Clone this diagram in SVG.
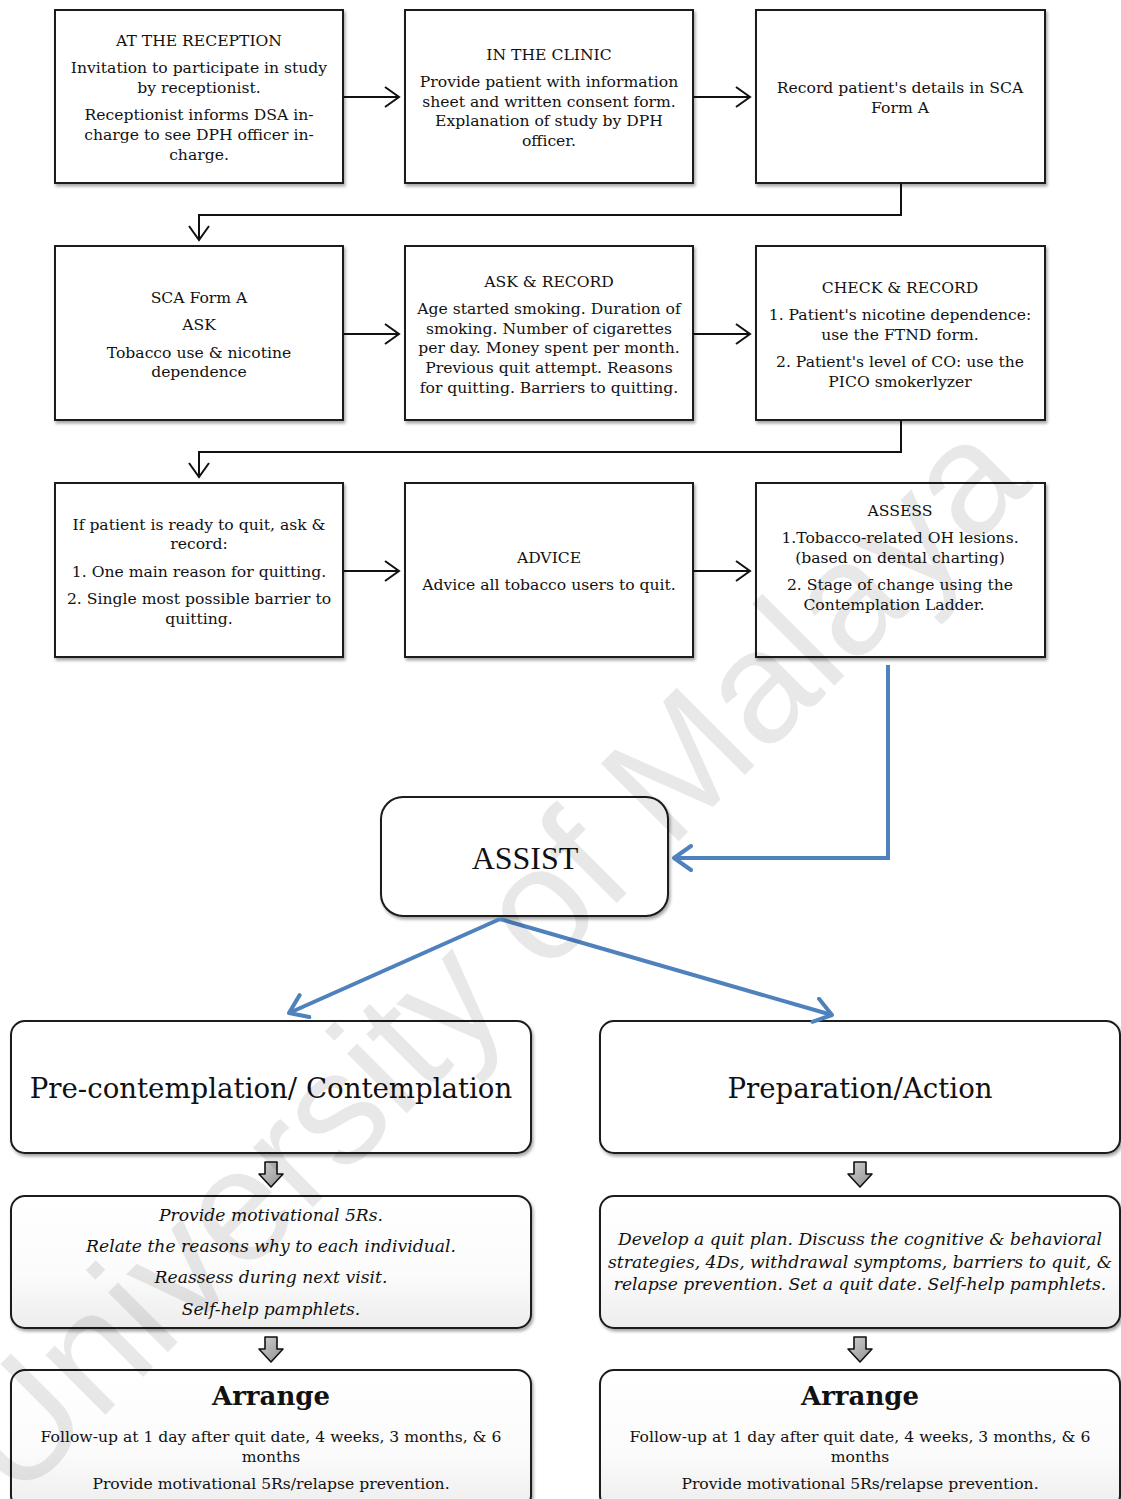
<svg xmlns="http://www.w3.org/2000/svg" width="1121" height="1499" viewBox="0 0 1121 1499">
  <defs>
    <filter id="shadow" x="-5%" y="-5%" width="112%" height="115%">
      <feDropShadow dx="1.5" dy="2.5" stdDeviation="1.8" flood-color="#000" flood-opacity="0.35"/>
    </filter>
    <linearGradient id="soft" x1="0" y1="0" x2="0" y2="1">
      <stop offset="0" stop-color="#ffffff"/>
      <stop offset="0.6" stop-color="#fbfbfb"/>
      <stop offset="1" stop-color="#ededed"/>
    </linearGradient>
    <linearGradient id="block" x1="0" y1="0" x2="1" y2="1">
      <stop offset="0" stop-color="#d2d2d2"/>
      <stop offset="1" stop-color="#8f8f8f"/>
    </linearGradient>
    <marker id="chev" markerUnits="userSpaceOnUse" markerWidth="20" markerHeight="24" refX="15" refY="11" orient="auto">
      <path d="M1,1 L15,11 L1,21" fill="none" stroke="#111" stroke-width="2"/>
    </marker>
    <marker id="chevBlue" markerUnits="userSpaceOnUse" markerWidth="24" markerHeight="30" refX="19" refY="14" orient="auto">
      <path d="M2,2 L19,14 L2,26" fill="none" stroke="#4f81bd" stroke-width="4" stroke-linecap="round" stroke-linejoin="round"/>
    </marker>
    <path id="downArrow" d="M-6,0 H6 V12 H12 L0,25 L-12,12 H-6 Z"/>
  </defs>
  <style>
    .box { fill: #fff; stroke: #1a1a1a; stroke-width: 2; filter: url(#shadow); }
    .rbox { fill: #fff; stroke: #1a1a1a; stroke-width: 2; filter: url(#shadow); }
    .gbox { fill: url(#soft); stroke: #1a1a1a; stroke-width: 2; filter: url(#shadow); }
    .t { font-family: "DejaVu Serif", "Liberation Serif", serif; font-size: 15.6px; fill: #111; text-anchor: middle; }
    .big { font-family: "DejaVu Serif", "Liberation Serif", serif; font-size: 27.6px; fill: #111; text-anchor: middle; }
    .it { font-family: "DejaVu Serif", "Liberation Serif", serif; font-style: italic; font-size: 17.2px; fill: #111; text-anchor: middle; }
    .hd { font-family: "DejaVu Serif", "Liberation Serif", serif; font-weight: bold; font-size: 26px; fill: #111; text-anchor: middle; }
    .assist { font-family: "Liberation Serif", "Times New Roman", serif; font-size: 32px; fill: #111; text-anchor: middle; }
    .conn { fill: none; stroke: #111; stroke-width: 2; }
    .blue { fill: none; stroke: #4f81bd; stroke-width: 4; }
    .blk { fill: url(#block); stroke: #111; stroke-width: 1.6; stroke-linejoin: round; }
    .wm { font-family: "Liberation Sans", Arial, sans-serif; font-size: 160px; fill: #000; fill-opacity: 0.09; text-anchor: middle; }
  </style>

  <!-- Row 1 -->
  <g id="reception">
    <rect class="box" x="55" y="10" width="288" height="173"/>
    <text class="t" x="199" y="46">AT THE RECEPTION</text>
    <text class="t" x="199" y="73">Invitation to participate in study</text>
    <text class="t" x="199" y="93">by receptionist.</text>
    <text class="t" x="199" y="120">Receptionist informs DSA in-</text>
    <text class="t" x="199" y="140">charge to see DPH officer in-</text>
    <text class="t" x="199" y="160">charge.</text>
  </g>
  <g id="clinic">
    <rect class="box" x="405" y="10" width="288" height="173"/>
    <text class="t" x="549" y="60">IN THE CLINIC</text>
    <text class="t" x="549" y="87">Provide patient with information</text>
    <text class="t" x="549" y="107">sheet and written consent form.</text>
    <text class="t" x="549" y="126">Explanation of study by DPH</text>
    <text class="t" x="549" y="146">officer.</text>
  </g>
  <g id="record-details">
    <rect class="box" x="756" y="10" width="289" height="173"/>
    <text class="t" x="900" y="93">Record patient's details in SCA</text>
    <text class="t" x="900" y="113">Form A</text>
  </g>

  <!-- Row 2 -->
  <g id="sca-form">
    <rect class="box" x="55" y="246" width="288" height="174"/>
    <text class="t" x="199" y="303">SCA Form A</text>
    <text class="t" x="199" y="330">ASK</text>
    <text class="t" x="199" y="358">Tobacco use &amp; nicotine</text>
    <text class="t" x="199" y="377">dependence</text>
  </g>
  <g id="ask-record">
    <rect class="box" x="405" y="246" width="288" height="174"/>
    <text class="t" x="549" y="287">ASK &amp; RECORD</text>
    <text class="t" x="549" y="314">Age started smoking. Duration of</text>
    <text class="t" x="549" y="334">smoking. Number of cigarettes</text>
    <text class="t" x="549" y="353">per day. Money spent per month.</text>
    <text class="t" x="549" y="373">Previous quit attempt. Reasons</text>
    <text class="t" x="549" y="393">for quitting. Barriers to quitting.</text>
  </g>
  <g id="check-record">
    <rect class="box" x="756" y="246" width="289" height="174"/>
    <text class="t" x="900" y="293">CHECK &amp; RECORD</text>
    <text class="t" x="900" y="320">1. Patient's nicotine dependence:</text>
    <text class="t" x="900" y="340">use the FTND form.</text>
    <text class="t" x="900" y="367">2. Patient's level of CO: use the</text>
    <text class="t" x="900" y="387">PICO smokerlyzer</text>
  </g>

  <!-- Row 3 -->
  <g id="ready-to-quit">
    <rect class="box" x="55" y="483" width="288" height="174"/>
    <text class="t" x="199" y="530">If patient is ready to quit, ask &amp;</text>
    <text class="t" x="199" y="549">record:</text>
    <text class="t" x="199" y="577">1. One main reason for quitting.</text>
    <text class="t" x="199" y="604">2. Single most possible barrier to</text>
    <text class="t" x="199" y="624">quitting.</text>
  </g>
  <g id="advice">
    <rect class="box" x="405" y="483" width="288" height="174"/>
    <text class="t" x="549" y="563">ADVICE</text>
    <text class="t" x="549" y="590">Advice all tobacco users to quit.</text>
  </g>
  <g id="assess">
    <rect class="box" x="756" y="483" width="289" height="174"/>
    <text class="t" x="900" y="516">ASSESS</text>
    <text class="t" x="900" y="543">1.Tobacco-related OH lesions.</text>
    <text class="t" x="900" y="563">(based on dental charting)</text>
    <text class="t" x="900" y="590">2. Stage of change using the</text>
    <text class="t" x="894" y="610">Contemplation Ladder.</text>
  </g>

  <!-- Assist -->
  <g id="assist">
    <rect class="rbox" x="381" y="797" width="287" height="119" rx="22" ry="22"/>
    <text class="assist" x="525" y="869">ASSIST</text>
  </g>

  <!-- Stage columns -->
  <g id="precontemplation">
    <rect class="rbox" x="11" y="1021" width="520" height="132" rx="14" ry="14"/>
    <text class="big" x="271" y="1098">Pre-contemplation/ Contemplation</text>
  </g>
  <g id="preparation">
    <rect class="rbox" x="600" y="1021" width="520" height="132" rx="14" ry="14"/>
    <text class="big" x="860" y="1098">Preparation/Action</text>
  </g>
  <g id="motivate">
    <rect class="gbox" x="11" y="1196" width="520" height="132" rx="14" ry="14"/>
    <text class="it" x="271" y="1221">Provide motivational 5Rs.</text>
    <text class="it" x="271" y="1252">Relate the reasons why to each individual.</text>
    <text class="it" x="271" y="1283">Reassess during next visit.</text>
    <text class="it" x="271" y="1315">Self-help pamphlets.</text>
  </g>
  <g id="quit-plan">
    <rect class="gbox" x="600" y="1196" width="520" height="132" rx="14" ry="14"/>
    <text class="it" x="860" y="1245">Develop a quit plan. Discuss the cognitive &amp; behavioral</text>
    <text class="it" x="860" y="1268">strategies, 4Ds, withdrawal symptoms, barriers to quit, &amp;</text>
    <text class="it" x="860" y="1290">relapse prevention. Set a quit date. Self-help pamphlets.</text>
  </g>
  <g id="arrange-left">
    <rect class="gbox" x="11" y="1370" width="520" height="140" rx="14" ry="14"/>
    <text class="hd" x="271" y="1405">Arrange</text>
    <text class="t" x="271" y="1442">Follow-up at 1 day after quit date, 4 weeks, 3 months, &amp; 6</text>
    <text class="t" x="271" y="1462">months</text>
    <text class="t" x="271" y="1489">Provide motivational 5Rs/relapse prevention.</text>
  </g>
  <g id="arrange-right">
    <rect class="gbox" x="600" y="1370" width="520" height="140" rx="14" ry="14"/>
    <text class="hd" x="860" y="1405">Arrange</text>
    <text class="t" x="860" y="1442">Follow-up at 1 day after quit date, 4 weeks, 3 months, &amp; 6</text>
    <text class="t" x="860" y="1462">months</text>
    <text class="t" x="860" y="1489">Provide motivational 5Rs/relapse prevention.</text>
  </g>

  <!-- Connectors -->
  <g id="connectors">
    <line class="conn" x1="343" y1="97" x2="399" y2="97" marker-end="url(#chev)"/>
    <line class="conn" x1="693" y1="97" x2="750" y2="97" marker-end="url(#chev)"/>
    <polyline class="conn" points="901,183 901,215 199,215 199,240" marker-end="url(#chev)"/>
    <line class="conn" x1="343" y1="334" x2="399" y2="334" marker-end="url(#chev)"/>
    <line class="conn" x1="693" y1="334" x2="750" y2="334" marker-end="url(#chev)"/>
    <polyline class="conn" points="901,420 901,452 199,452 199,477" marker-end="url(#chev)"/>
    <line class="conn" x1="343" y1="571" x2="399" y2="571" marker-end="url(#chev)"/>
    <line class="conn" x1="693" y1="571" x2="750" y2="571" marker-end="url(#chev)"/>
    <polyline class="blue" points="888,665 888,858 674,858" marker-end="url(#chevBlue)"/>
    <line class="blue" x1="500" y1="919" x2="289" y2="1013" marker-end="url(#chevBlue)"/>
    <line class="blue" x1="500" y1="919" x2="832" y2="1015" marker-end="url(#chevBlue)"/>
    <use href="#downArrow" class="blk" x="271" y="1162"/>
    <use href="#downArrow" class="blk" x="860" y="1162"/>
    <use href="#downArrow" class="blk" x="271" y="1337"/>
    <use href="#downArrow" class="blk" x="860" y="1337"/>
  </g>

  <!-- Repository watermark -->
  <text class="wm" transform="translate(525,995) rotate(-45)">University of Malaya</text>
</svg>
